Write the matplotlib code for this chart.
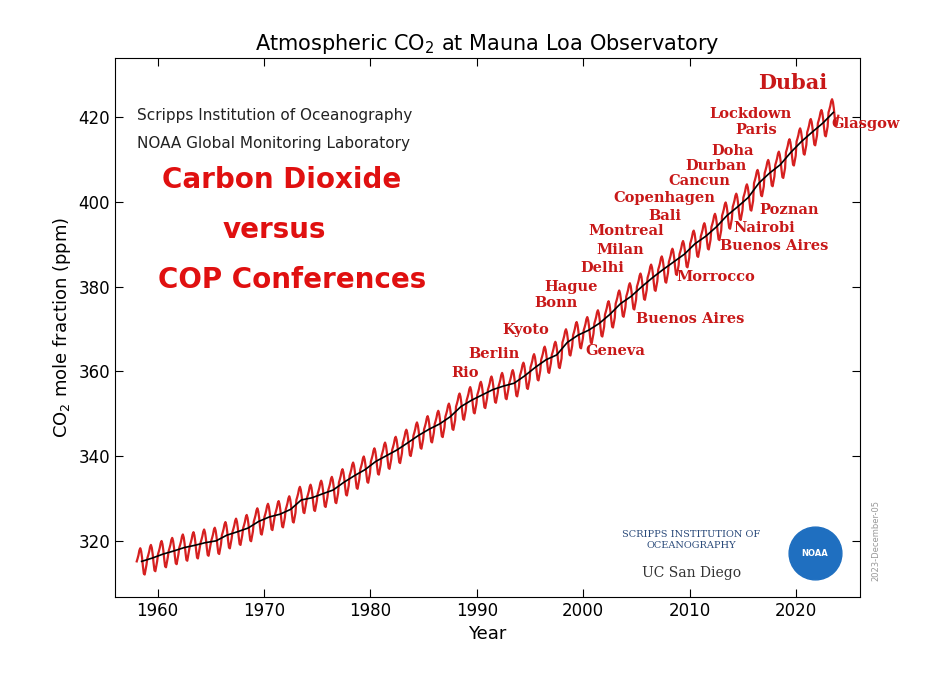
import numpy as np
import matplotlib
matplotlib.use("Agg")
import matplotlib.pyplot as plt

years = list(range(1958, 2024))
annual_mean = [315.2, 315.98, 316.91, 317.64, 318.45, 318.99, 319.62, 320.04, 321.37, 322.18, 323.05,
               324.62, 325.68, 326.32, 327.46, 329.68, 330.19, 331.13, 332.03, 333.84, 335.41,
               336.84, 338.76, 340.12, 341.48, 343.15, 344.87, 346.35, 347.61, 349.31, 351.69,
               353.20, 354.45, 355.70, 356.54, 357.21, 358.96, 360.97, 362.74, 363.88, 366.84,
               368.54, 369.71, 371.32, 373.45, 375.98, 377.70, 379.98, 382.09, 384.02, 385.83,
               387.64, 390.10, 391.85, 394.06, 396.74, 398.81, 401.01, 404.41, 406.76, 408.72,
               411.65, 414.21, 416.41, 418.53, 421.08]
seasonal = [0.0, 0.7, 1.5, 2.6, 3.1, 2.4, 0.9, -1.2, -2.9, -3.1, -1.9, -0.8]

labels = ["Dubai", "Lockdown", "Paris", "Glasgow", "Doha", "Durban", "Cancun", "Copenhagen", "Bali",
          "Poznan", "Nairobi", "Montreal", "Buenos Aires", "Milan", "Delhi", "Morrocco", "Hague",
          "Bonn", "Buenos Aires", "Kyoto", "Berlin", "Geneva", "Rio"]
label_px = [(793, 83), (751, 114), (757, 130), (866, 124), (733, 151), (716, 166), (700, 181),
            (665, 198), (665, 216), (790, 210), (765, 228), (627, 231), (775, 246), (621, 250),
            (603, 268), (716, 277), (571, 287), (556, 303), (691, 319), (526, 330), (494, 354),
            (616, 351), (465, 373)]

def px2d(px, py):
    return 1956 + (px - 115) / 10.65, 433.9 - (py - 58) / 4.24

t, v = [], []
for y, m in zip(years, annual_mean):
    for k, s in enumerate(seasonal):
        t.append(y + (k + 0.5) / 12)
        v.append(m + s)

fig = plt.figure(figsize=(9.3, 6.82), dpi=100)
ax = fig.add_axes([115/930, 1-597/682, 745/930, 539/682])
ax.plot(t, v, color='#d62020', lw=1.6)
ax.plot([y + 0.5 for y in years], annual_mean, color='black', lw=1.2)
ax.set_xlim(1956, 2026)
ax.set_ylim(306.8, 433.9)
ax.set_xticks(range(1960, 2030, 10))
ax.set_yticks(range(320, 430, 20))
ax.tick_params(labelsize=12, direction='in', top=True, right=True, length=6)
ax.set_xlabel("Year", fontsize=13)
ax.set_ylabel("CO$_2$ mole fraction (ppm)", fontsize=13)
ax.set_title("Atmospheric CO$_2$ at Mauna Loa Observatory", fontsize=15)

for lab, (px, py) in zip(labels, label_px):
    x, y = px2d(px, py)
    ax.text(x, y, lab, color='#c81818', fontsize=15 if lab == "Dubai" else 10.5,
            fontweight='bold', family='DejaVu Serif', ha='center', va='center')

for txt, py in [("Scripps Institution of Oceanography", 115), ("NOAA Global Monitoring Laboratory", 143)]:
    x, y = px2d(137, py)
    ax.text(x, y, txt, fontsize=11, ha='left', va='center', color='#222222')
for txt, px, py in [("Carbon Dioxide", 282, 180), ("versus", 274, 230), ("COP Conferences", 292, 280)]:
    x, y = px2d(px, py)
    ax.text(x, y, txt, fontsize=20, ha='center', va='center', color='#e01010', fontweight='bold')

x, y = px2d(692, 540)
ax.text(x, y, "SCRIPPS INSTITUTION OF\nOCEANOGRAPHY", fontsize=7, ha='center', va='center',
        color='#2a4a7a', family='DejaVu Serif')
x, y = px2d(692, 573)
ax.text(x, y, "UC San Diego", fontsize=10, ha='center', va='center', color='#333', family='DejaVu Serif')
x, y = px2d(815, 553)
ax.plot([x], [y], 'o', ms=38, color='#1f6fc0')
ax.text(x, y, "NOAA", fontsize=6, ha='center', va='center', color='white', fontweight='bold')
x, y = px2d(876, 540)
ax.text(x, y, "2023-December-05", fontsize=6, rotation=90, ha='center', va='center', color='#999')

fig.savefig("out.png", dpi=100)
